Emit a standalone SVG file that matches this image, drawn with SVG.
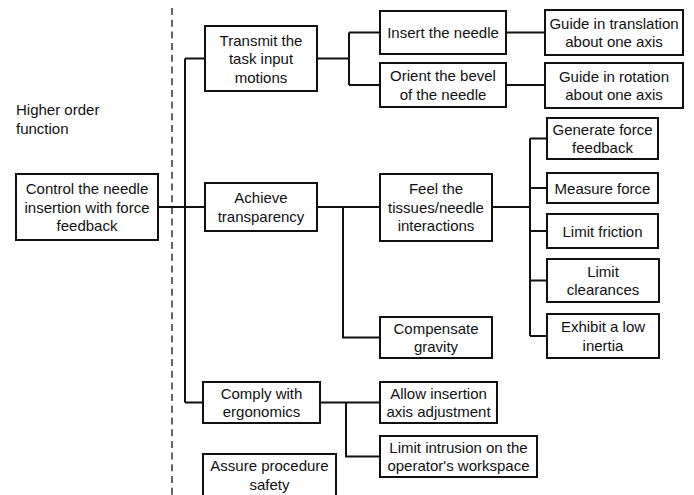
<svg xmlns="http://www.w3.org/2000/svg" width="694" height="495" viewBox="0 0 694 495">
<style>
.box{fill:#fff;stroke:#111;stroke-width:2}
.t{font-family:"Liberation Sans",Arial,sans-serif;font-size:15px;fill:#111;text-anchor:middle}
.lbl{font-family:"Liberation Sans",Arial,sans-serif;font-size:15px;fill:#111}
.c{fill:none;stroke:#111;stroke-width:2}
.dash{fill:none;stroke:#333;stroke-width:1.5;stroke-dasharray:7 4.7}
</style>
<rect width="694" height="495" fill="#fff"/>
<line class="dash" x1="172" y1="8" x2="172" y2="495"/>
<text class="lbl" x="16" y="115">Higher order</text>
<text class="lbl" x="16" y="133.5">function</text>
<g id="connectors">
<path class="c" d="M158 207H185M185 58.5V402.5M185 58.5H205M185 207H205M185 402.5H203"/>
<path class="c" d="M317 58.5H349M349 32.5V85M349 32.5H380M349 85H380"/>
<path class="c" d="M506 32.5H545M506 85H545"/>
<path class="c" d="M317 207H380M343 207V337.5H380"/>
<path class="c" d="M492 207H530M530 138.5V336M530 138.5H547M530 188H547M530 231H547M530 280.5H547M530 336H547"/>
<path class="c" d="M320 402.5H380M346 402.5V456.5H380"/>
</g>
<g id="n-control"><rect class="box" x="16" y="174" width="142" height="66"/><text class="t" x="87" y="194">Control the needle</text><text class="t" x="87" y="212.5">insertion with force</text><text class="t" x="87" y="231">feedback</text></g>
<g id="n-transmit"><rect class="box" x="205" y="26" width="112" height="65"/><text class="t" x="261" y="45.5">Transmit the</text><text class="t" x="261" y="64">task input</text><text class="t" x="261" y="82.5">motions</text></g>
<g id="n-achieve"><rect class="box" x="205" y="183" width="112" height="48"/><text class="t" x="261" y="203.3">Achieve</text><text class="t" x="261" y="221.8">transparency</text></g>
<g id="n-comply"><rect class="box" x="203" y="382" width="117" height="41"/><text class="t" x="261.5" y="398.8">Comply with</text><text class="t" x="261.5" y="417.3">ergonomics</text></g>
<g id="n-assure"><rect class="box" x="203" y="454" width="133" height="44"/><text class="t" x="269.5" y="471">Assure procedure</text><text class="t" x="269.5" y="489.5">safety</text></g>
<g id="n-insert"><rect class="box" x="380" y="11" width="126" height="43"/><text class="t" x="443" y="38">Insert the needle</text></g>
<g id="n-orient"><rect class="box" x="380" y="63" width="126" height="44"/><text class="t" x="443" y="81.3">Orient the bevel</text><text class="t" x="443" y="99.8">of the needle</text></g>
<g id="n-guide-t"><rect class="box" x="545" y="10" width="138" height="45"/><text class="t" x="614" y="28.8">Guide in translation</text><text class="t" x="614" y="47.3">about one axis</text></g>
<g id="n-guide-r"><rect class="box" x="545" y="63" width="138" height="45"/><text class="t" x="614" y="81.8">Guide in rotation</text><text class="t" x="614" y="100.3">about one axis</text></g>
<g id="n-feel"><rect class="box" x="380" y="174" width="112" height="67"/><text class="t" x="436" y="194">Feel the</text><text class="t" x="436" y="212.5">tissues/needle</text><text class="t" x="436" y="231">interactions</text></g>
<g id="n-compensate"><rect class="box" x="380" y="317" width="112" height="41"/><text class="t" x="436" y="333.8">Compensate</text><text class="t" x="436" y="352.3">gravity</text></g>
<g id="n-generate"><rect class="box" x="547" y="118" width="111" height="41"/><text class="t" x="602.5" y="134.8">Generate force</text><text class="t" x="602.5" y="153.3">feedback</text></g>
<g id="n-measure"><rect class="box" x="547" y="173" width="111" height="30"/><text class="t" x="602.5" y="193.5">Measure force</text></g>
<g id="n-friction"><rect class="box" x="547" y="214" width="111" height="34"/><text class="t" x="602.5" y="236.5">Limit friction</text></g>
<g id="n-clearances"><rect class="box" x="547" y="259" width="112" height="43"/><text class="t" x="603" y="276.8">Limit</text><text class="t" x="603" y="295.3">clearances</text></g>
<g id="n-inertia"><rect class="box" x="547" y="314" width="112" height="44"/><text class="t" x="603" y="332.3">Exhibit a low</text><text class="t" x="603" y="350.8">inertia</text></g>
<g id="n-allow"><rect class="box" x="380" y="382" width="117" height="41"/><text class="t" x="438.5" y="398.8">Allow insertion</text><text class="t" x="438.5" y="417.3">axis adjustment</text></g>
<g id="n-intrusion"><rect class="box" x="380" y="436" width="157" height="41"/><text class="t" x="458.5" y="452.8">Limit intrusion on the</text><text class="t" x="458.5" y="471.3">operator's workspace</text></g>
</svg>
